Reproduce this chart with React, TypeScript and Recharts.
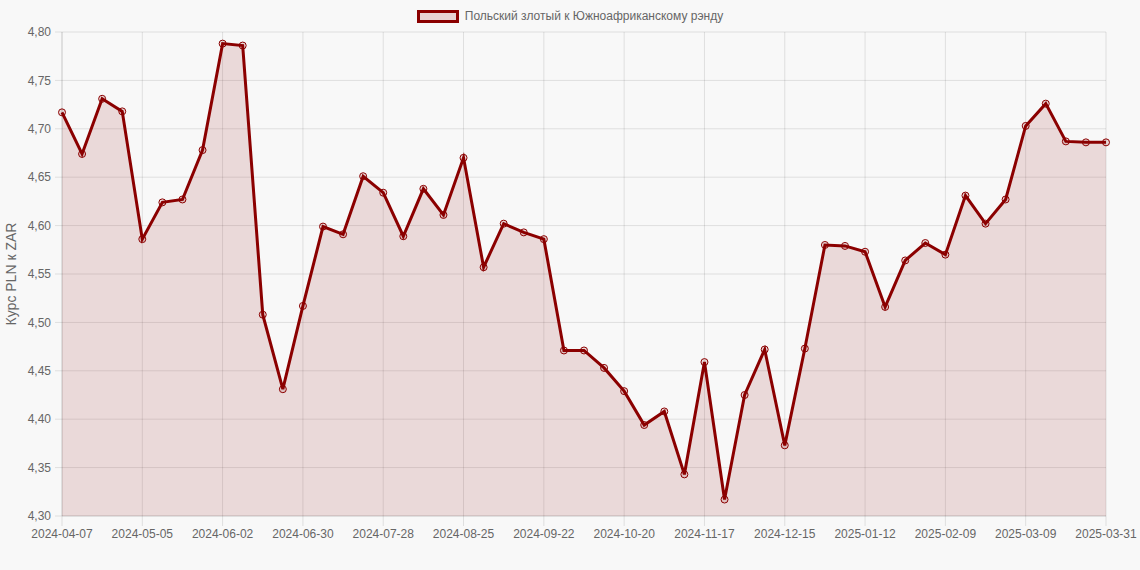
import { Area, AreaChart, CartesianGrid, XAxis, YAxis } from "recharts"

const dates = [
  "2024-04-07", "2024-04-14", "2024-04-21", "2024-04-28", "2024-05-05", "2024-05-12",
  "2024-05-19", "2024-05-26", "2024-06-02", "2024-06-09", "2024-06-16", "2024-06-23",
  "2024-06-30", "2024-07-07", "2024-07-14", "2024-07-21", "2024-07-28", "2024-08-04",
  "2024-08-11", "2024-08-18", "2024-08-25", "2024-09-01", "2024-09-08", "2024-09-15",
  "2024-09-22", "2024-09-29", "2024-10-06", "2024-10-13", "2024-10-20", "2024-10-27",
  "2024-11-03", "2024-11-10", "2024-11-17", "2024-11-24", "2024-12-01", "2024-12-08",
  "2024-12-15", "2024-12-22", "2024-12-29", "2025-01-05", "2025-01-12", "2025-01-19",
  "2025-01-26", "2025-02-02", "2025-02-09", "2025-02-16", "2025-02-23", "2025-03-02",
  "2025-03-09", "2025-03-16", "2025-03-23", "2025-03-30", "2025-03-31",
]

const rates = [
  4.717, 4.674, 4.731, 4.718, 4.586, 4.624, 4.627, 4.678, 4.788, 4.786,
  4.508, 4.431, 4.517, 4.599, 4.591, 4.651, 4.634, 4.589, 4.638, 4.611,
  4.670, 4.557, 4.602, 4.593, 4.586, 4.471, 4.471, 4.453, 4.429, 4.394,
  4.408, 4.343, 4.459, 4.317, 4.425, 4.472, 4.373, 4.473, 4.580, 4.579,
  4.573, 4.516, 4.564, 4.582, 4.570, 4.631, 4.602, 4.627, 4.703, 4.726,
  4.687, 4.686, 4.686,
]

const xTicks = [
  "2024-04-07", "2024-05-05", "2024-06-02", "2024-06-30", "2024-07-28", "2024-08-25",
  "2024-09-22", "2024-10-20", "2024-11-17", "2024-12-15", "2025-01-12", "2025-02-09",
  "2025-03-09", "2025-03-31",
]

const yTicks = [4.3, 4.35, 4.4, 4.45, 4.5, 4.55, 4.6, 4.65, 4.7, 4.75, 4.8]

const seriesName = "Польский злотый к Южноафриканскому рэнду"
const yTitle = "Курс PLN к ZAR"

const data = dates.map((date, i) => ({ date, rate: rates[i] }))

const FONT = "'Liberation Sans', Arial, Helvetica, sans-serif"
const RED = "#8b0000"
const GRID = "rgba(0,0,0,0.1)"

const YTitle = (props: any) => {
  const vb = props.viewBox
  const cx = vb.x + 11
  const cy = vb.y + vb.height / 2
  return (
    <text
      x={cx}
      y={cy}
      transform={`rotate(-90 ${cx} ${cy})`}
      textAnchor="middle"
      dominantBaseline="central"
      fill="#666"
      fontSize={14}
      fontFamily={FONT}
    >
      {yTitle}
    </text>
  )
}

export default function App() {
  return (
    <div style={{ position: "relative", width: 1140, height: 570, background: "#f8f8f8" }}>
      <style>{`body{margin:0;background:#f8f8f8}`}</style>
      <div
        style={{
          position: "absolute",
          top: 9,
          left: 0,
          width: 1140,
          display: "flex",
          justifyContent: "center",
          alignItems: "center",
          fontFamily: FONT,
          fontSize: 12,
          color: "#666",
          lineHeight: "14px",
        }}
      >
        <span
          style={{
            display: "inline-block",
            width: 36,
            height: 7,
            border: `3px solid ${RED}`,
            background: "rgba(139,0,0,0.15)",
            marginRight: 6,
          }}
        />
        <span>{seriesName}</span>
      </div>
      <AreaChart
        width={1140}
        height={570}
        data={data}
        margin={{ top: 32, right: 34, bottom: 24, left: 0 }}
      >
        <CartesianGrid stroke={GRID} />
        <XAxis
          dataKey="date"
          ticks={xTicks}
          interval={0}
          height={30}
          tickSize={10}
          tickMargin={3}
          axisLine={{ stroke: GRID }}
          tickLine={{ stroke: GRID }}
          tick={{ fill: "#666", fontSize: 12, fontFamily: FONT }}
        />
        <YAxis
          type="number"
          domain={[4.3, 4.8]}
          ticks={yTicks}
          width={62}
          tickSize={7}
          tickMargin={4}
          axisLine={{ stroke: GRID }}
          tickLine={{ stroke: GRID }}
          tick={{ fill: "#666", fontSize: 12, fontFamily: FONT }}
          tickFormatter={(v: number) => v.toFixed(2).replace(".", ",")}
          label={<YTitle />}
        />
        <Area
          type="linear"
          dataKey="rate"
          stroke={RED}
          strokeWidth={3}
          fill="rgba(139,0,0,0.12)"
          fillOpacity={1}
          dot={{ r: 3.5, stroke: RED, strokeWidth: 1, fill: "rgba(139,0,0,0.12)" }}
          activeDot={false}
          isAnimationActive={false}
        />
      </AreaChart>
    </div>
  )
}
